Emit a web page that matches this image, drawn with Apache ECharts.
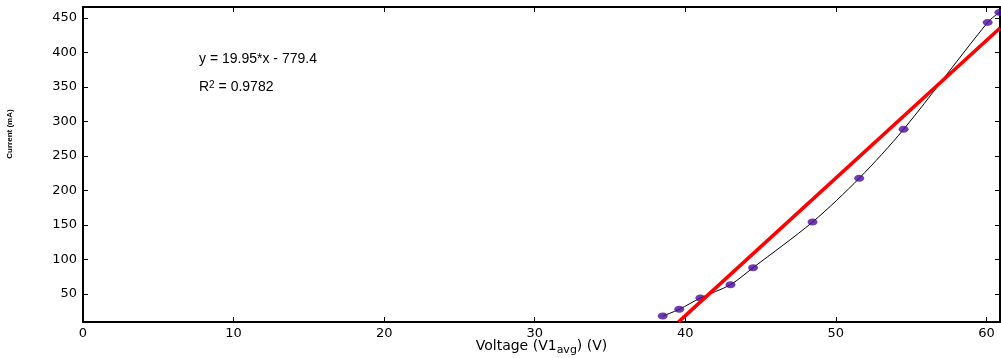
<!DOCTYPE html>
<html>
<head>
<meta charset="utf-8">
<script src="https://cdn.jsdelivr.net/npm/echarts@6/dist/echarts.min.js"></script>
<style>
  html, body { margin: 0; padding: 0; background: #fff; }
  #chart { width: 1001px; height: 358px; }
</style>
</head>
<body>
<div id="chart"></div>
<script>
// measured points
const voltage = [38.5, 39.6, 41.0, 43.0, 44.5, 48.45, 51.55, 54.5, 60.08, 60.86];
const current = [18.1, 27.8, 44.2, 63.5, 88.1, 154.3, 217.7, 288.7, 443.7, 458.2];
// linear fit end points (y = 19.95*x - 779.4)
const fitX = [39.55, 60.9];
const fitY = [9.6, 435.6];
const xTicks = [0, 10, 20, 30, 40, 50, 60];
const yTicks = [50, 100, 150, 200, 250, 300, 350, 400, 450];

const font = 'Liberation Sans, Arial, sans-serif';
const tickFont = 'DejaVu Sans, sans-serif';
const pts = voltage.map((v, i) => [v, current[i]]);
const fitPts = fitX.map((v, i) => [v, fitY[i]]);

const chart = echarts.init(document.getElementById('chart'));

const axisBase = {
  type: 'value',
  axisLine: { show: true, onZero: false, lineStyle: { color: '#000', width: 2 } },
  axisTick: { show: true, inside: true, length: 5, lineStyle: { color: '#000', width: 1 } },
  splitLine: { show: false }
};

chart.setOption({
  animation: false,
  grid: { left: 83, right: 1, top: 7, bottom: 36, outerBoundsMode: 'none', containLabel: false },
  xAxis: [
    Object.assign({}, axisBase, {
      min: 0, max: 60.9,
      position: 'bottom',
      axisTick: Object.assign({}, axisBase.axisTick, { customValues: xTicks }),
      axisLabel: { customValues: xTicks, color: '#000', fontFamily: tickFont, fontSize: 13, margin: 5 },
      name: '{n|Voltage (V1}{s|avg}{n|) (V)}',
      nameLocation: 'middle',
      nameGap: 14,
      nameMoveOverlap: false,
      nameTextStyle: {
        rich: {
          n: { fontFamily: tickFont, fontSize: 14, color: '#000' },
          s: { fontFamily: tickFont, fontSize: 11, color: '#000', verticalAlign: 'bottom', padding: [9, 0, 0, 0] }
        }
      }
    }),
    Object.assign({}, axisBase, {
      min: 0, max: 60.9,
      position: 'top',
      axisTick: Object.assign({}, axisBase.axisTick, { customValues: xTicks }),
      axisLabel: { show: false }
    })
  ],
  yAxis: [
    Object.assign({}, axisBase, {
      min: 9.4, max: 466,
      position: 'left',
      axisTick: Object.assign({}, axisBase.axisTick, { customValues: yTicks }),
      axisLabel: { customValues: yTicks, color: '#000', fontFamily: tickFont, fontSize: 13, margin: 6 }
    }),
    Object.assign({}, axisBase, {
      min: 9.4, max: 466,
      position: 'right',
      axisTick: Object.assign({}, axisBase.axisTick, { customValues: yTicks }),
      axisLabel: { show: false }
    })
  ],
  graphic: [
    {
      type: 'text', left: 199, top: 52,
      style: { text: 'y = 19.95*x - 779.4', font: '14px ' + font, fill: '#000' }
    },
    {
      type: 'text', left: 199, top: 80,
      style: {
        text: '{n|R}{p|2}{n| = 0.9782}',
        rich: {
          n: { fontFamily: font, fontSize: 14, color: '#000', verticalAlign: 'bottom' },
          p: { fontFamily: font, fontSize: 10, color: '#000', verticalAlign: 'top' }
        }
      }
    },
    {
      type: 'text', x: 10, y: 134, rotation: Math.PI / 2,
      style: {
        text: 'Current (mA)', font: 'bold 8px ' + font, fill: '#000',
        align: 'center', verticalAlign: 'middle'
      }
    }
  ],
  series: [
    {
      type: 'line', data: pts, smooth: 0.3, symbol: 'none',
      lineStyle: { color: '#000', width: 1 }, z: 2
    },
    {
      type: 'scatter', data: pts, symbol: 'circle', symbolSize: [10, 7],
      itemStyle: { color: '#4a0a9e' }, z: 3
    },
    {
      type: 'line', data: fitPts, symbol: 'none',
      lineStyle: { color: '#ff0000', width: 3.5 }, z: 4
    }
  ]
});
</script>
</body>
</html>
